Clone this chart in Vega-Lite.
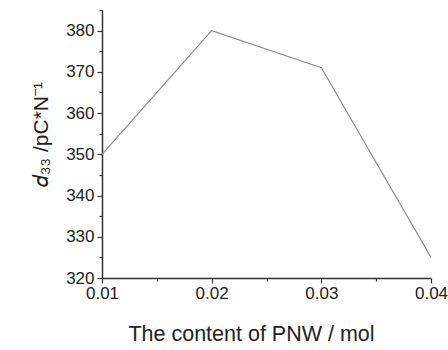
{
  "$schema": "https://vega.github.io/schema/vega-lite/v6.json",
  "autosize": "none",
  "width": 329,
  "height": 268,
  "padding": {"left": 102, "top": 10, "right": 17, "bottom": 72},
  "config": {
    "view": {"stroke": null},
    "font": "Liberation Sans",
    "axis": {"grid": false, "domainColor": "#333333", "tickColor": "#333333", "domainWidth": 1.5, "tickWidth": 1.2, "labelColor": "#222222", "titleColor": "#222222", "labelFont": "Liberation Sans", "titleFont": "Liberation Sans", "titleFontWeight": "normal", "labelFlush": false}
  },
  "data": {
    "values": [
      {"content": 0.01, "d33": 350},
      {"content": 0.02, "d33": 380},
      {"content": 0.03, "d33": 371},
      {"content": 0.04, "d33": 325}
    ]
  },
  "resolve": {"axis": {"x": "independent", "y": "independent"}},
  "layer": [
    {
      "mark": {"type": "rule", "opacity": 0},
      "encoding": {
        "x": {"field": "content", "type": "quantitative", "scale": {"domain": [0.01, 0.04], "nice": false, "zero": false},
          "axis": {"orient": "bottom", "values": [0.015, 0.025, 0.035], "labels": false, "title": null, "tickSize": 3, "domain": false}},
        "y": {"field": "d33", "type": "quantitative", "scale": {"domain": [320, 385], "nice": false, "zero": false},
          "axis": {"orient": "left", "values": [325, 335, 345, 355, 365, 375, 385], "labels": false, "title": null, "tickSize": 3, "domain": false}}
      }
    },
    {
      "mark": {"type": "line", "color": "#8a8a8a", "strokeWidth": 1.1},
      "encoding": {
        "x": {"field": "content", "type": "quantitative",
          "axis": {"orient": "bottom", "values": [0.01, 0.02, 0.03, 0.04], "format": ".2f", "tickSize": 5, "labelFontSize": 17, "labelPadding": 2, "title": "The content of PNW / mol", "titleFontSize": 21.5, "titlePadding": 22, "titleX": 149}},
        "y": {"field": "d33", "type": "quantitative",
          "axis": {"orient": "left", "values": [320, 330, 340, 350, 360, 370, 380], "tickSize": 5, "labelFontSize": 17, "labelPadding": 3, "title": "𝑑₃₃ /pC*N⁻¹", "titleFontSize": 21, "titlePadding": 14, "titleY": 124}}
      }
    }
  ]
}
